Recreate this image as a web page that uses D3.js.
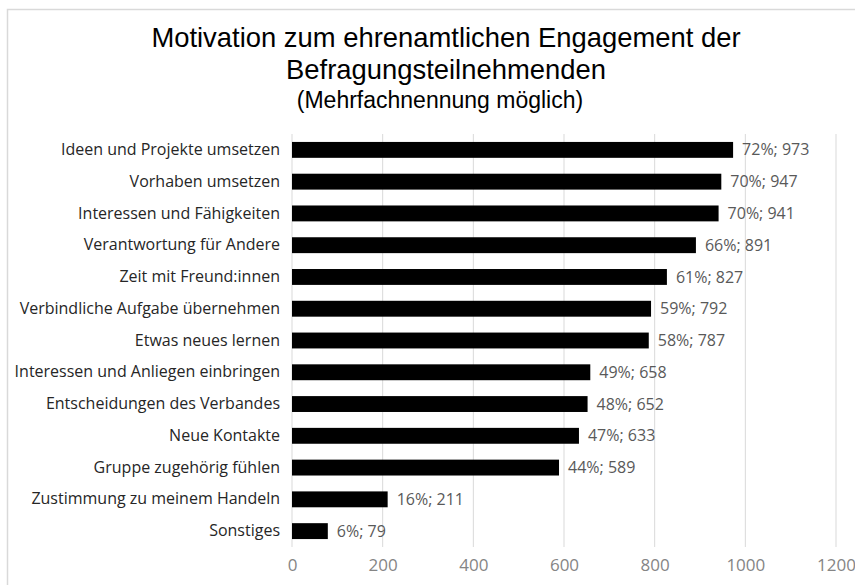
<!DOCTYPE html>
<html><head><meta charset="utf-8">
<script src="https://cdn.jsdelivr.net/npm/d3@7"></script>
<style>
html,body{margin:0;padding:0;background:#fff;}
svg{display:block;}
</style>
</head><body>
<svg id="chart" width="855" height="585"></svg>
<script>
const categories = [
  "Ideen und Projekte umsetzen",
  "Vorhaben umsetzen",
  "Interessen und Fähigkeiten",
  "Verantwortung für Andere",
  "Zeit mit Freund:innen",
  "Verbindliche Aufgabe übernehmen",
  "Etwas neues lernen",
  "Interessen und Anliegen einbringen",
  "Entscheidungen des Verbandes",
  "Neue Kontakte",
  "Gruppe zugehörig fühlen",
  "Zustimmung zu meinem Handeln",
  "Sonstiges"
];
const counts = [973, 947, 941, 891, 827, 792, 787, 658, 652, 633, 589, 211, 79];
const percents = [72, 70, 70, 66, 61, 59, 58, 49, 48, 47, 44, 16, 6];
const xTicks = [0, 200, 400, 600, 800, 1000, 1200];
const titleLines = ["Motivation zum ehrenamtlichen Engagement der", "Befragungsteilnehmenden"];
const subtitle = "(Mehrfachnennung möglich)";

(function () {
const svg = d3.select("#chart");
const W = 855, H = 585;
const font = "'Liberation Sans', Arial, sans-serif";
const bodyFont = "'Open Sans', 'DejaVu Sans', sans-serif";

svg.append("rect").attr("x", 7.5).attr("y", 9.5).attr("width", W).attr("height", H)
  .attr("fill", "#fff").attr("stroke", "#d9d9d9").attr("stroke-width", 1.5);

const mLeft = 292, mRight = 836, mTop = 134, mBottom = 547;
const x = d3.scaleLinear().domain([0, 1200]).range([mLeft, mRight]);
const y = d3.scaleBand().domain(categories).range([mTop, mBottom]).paddingInner(0.5).paddingOuter(0.25);

svg.append("g").selectAll("line").data(xTicks).join("line")
  .attr("x1", d => x(d)).attr("x2", d => x(d))
  .attr("y1", mTop).attr("y2", mBottom)
  .attr("stroke", "#d9d9d9").attr("stroke-width", 1);

const xAxis = svg.append("g").attr("transform", `translate(0,${mBottom})`)
  .call(d3.axisBottom(x).tickValues(xTicks).tickSize(0).tickPadding(12).tickFormat(d3.format("d")));
xAxis.select(".domain").remove();
xAxis.selectAll("text").attr("fill", "#858585").style("font-family", bodyFont).style("font-size", "17px");

svg.append("g").selectAll("rect").data(counts).join("rect")
  .attr("x", x(0)).attr("y", (d, i) => y(categories[i]))
  .attr("width", d => x(d) - x(0)).attr("height", y.bandwidth())
  .attr("fill", "#000");

const yAxis = svg.append("g").attr("transform", `translate(${mLeft},0)`)
  .call(d3.axisLeft(y).tickSize(0).tickPadding(12));
yAxis.select(".domain").remove();
yAxis.selectAll("text").attr("fill", "#262626").style("font-family", bodyFont).style("font-size", "16px");

svg.append("g").selectAll("text").data(counts).join("text")
  .attr("x", d => x(d) + 9)
  .attr("y", (d, i) => y(categories[i]) + y.bandwidth() / 2)
  .attr("dy", "0.35em")
  .attr("fill", "#595959").style("font-family", bodyFont).style("font-size", "16px")
  .text((d, i) => `${percents[i]}%; ${d}`);

svg.append("g").selectAll("text").data(titleLines).join("text")
  .attr("x", 446).attr("y", (d, i) => 47 + i * 32)
  .attr("text-anchor", "middle").attr("fill", "#000")
  .style("font-family", font).style("font-size", "27.4px")
  .text(d => d);
svg.append("text").attr("x", 440).attr("y", 108).attr("text-anchor", "middle")
  .attr("fill", "#000").style("font-family", font).style("font-size", "23px")
  .text(subtitle);
})();
</script>
</body></html>
